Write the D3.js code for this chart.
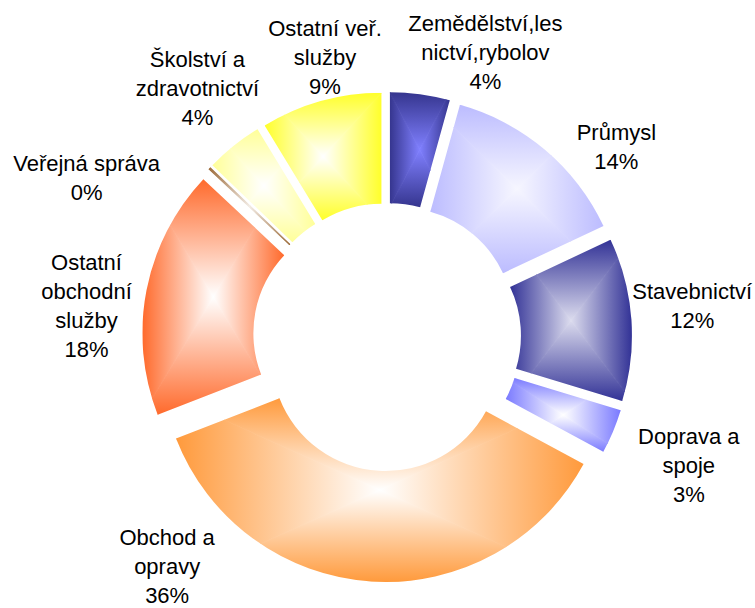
<!DOCTYPE html>
<html>
<head>
<meta charset="utf-8">
<script src="https://cdn.jsdelivr.net/npm/d3@7"></script>
<style>
  body { margin: 0; background: #fff; }
  .label { font-family: "Liberation Sans", Arial, sans-serif; font-size: 22px; fill: #000; }
</style>
</head>
<body>
<div id="chart"></div>
<script>
/***************** Data *********************/
var sectors = ["Zemědělství,lesnictví,rybolov", "Průmysl", "Stavebnictví", "Doprava a spoje",
               "Obchod a opravy", "Ostatní obchodní služby", "Veřejná správa",
               "Školství a zdravotnictví", "Ostatní veř. služby"];
var shares = [4.3, 13.7, 11.7, 3.2, 36.2, 17.9, 0.2, 4.1, 8.7];
var labelLines = [
  ["Zemědělství,les", "nictví,rybolov"],
  ["Průmysl"],
  ["Stavebnictví"],
  ["Doprava a", "spoje"],
  ["Obchod a", "opravy"],
  ["Ostatní", "obchodní", "služby"],
  ["Veřejná správa"],
  ["Školství a", "zdravotnictví"],
  ["Ostatní veř.", "služby"]
];

/***************** Styles / layout *********************/
var edgeColors   = ["#35358e", "#bcbcff", "#323296", "#7a7aff", "#ff9a3c", "#ff6a2c", "#996633", "#ffff99", "#ffff2a"];
var centerColors = ["#8080ff", "#f6f6ff", "#dcdcee", "#ffffff", "#ffffff", "#ffffff", "#f2ebe4", "#ffffff", "#ffffff"];
// label placement tweaks relative to the default outside position
var labelNudge = [[58, 13], [36, 39], [6, -10], [25, 13], [-201, -70], [-6, 26], [-83, 48], [-2, -15], [19, 9]];

var w = 755, h = 608,
    cx = 387, cy = 337,
    outerR = 225, innerR = 114,
    explode = 20,
    labelR = 300,
    lineH = 29;

var svg = d3.select("#chart")
    .append("svg")
    .attr("width", w)
    .attr("height", h);

var defs = svg.append("defs");

var total = d3.sum(shares);
var pie = d3.pie().sort(null).value(function(d) { return d; });
var arc = d3.arc().innerRadius(innerR).outerRadius(outerR);
var arcs = pie(shares);

/***************** Slices with "from centre" rectangle gradient *********************/
arcs.forEach(function(a, i) {
  var mid = (a.startAngle + a.endAngle) / 2;
  var dx = explode * Math.sin(mid), dy = -explode * Math.cos(mid);
  var g = svg.append("g")
      .attr("class", "slice")
      .attr("transform", "translate(" + (cx + dx) + "," + (cy + dy) + ")");

  var d = arc(a);
  defs.append("clipPath").attr("id", "clip" + i).append("path").attr("d", d);

  // measure the slice box
  var probe = g.append("path").attr("d", d).attr("fill", "none");
  var bb = probe.node().getBBox();
  probe.remove();

  var x0 = bb.x, y0 = bb.y, x1 = bb.x + bb.width, y1 = bb.y + bb.height,
      mx = (x0 + x1) / 2, my = (y0 + y1) / 2;

  var parts = [
    { pts: [[x0, y0], [x1, y0], [mx, my]], from: [mx, y0], to: [mx, my] },
    { pts: [[x0, y1], [x1, y1], [mx, my]], from: [mx, y1], to: [mx, my] },
    { pts: [[x0, y0], [x0, y1], [mx, my]], from: [x0, my], to: [mx, my] },
    { pts: [[x1, y0], [x1, y1], [mx, my]], from: [x1, my], to: [mx, my] }
  ];

  var inner = g.append("g").attr("clip-path", "url(#clip" + i + ")");
  parts.forEach(function(p, j) {
    var id = "grad" + i + "_" + j;
    var lg = defs.append("linearGradient")
        .attr("id", id)
        .attr("gradientUnits", "userSpaceOnUse")
        .attr("x1", p.from[0]).attr("y1", p.from[1])
        .attr("x2", p.to[0]).attr("y2", p.to[1]);
    lg.append("stop").attr("offset", "0%").attr("stop-color", edgeColors[i]);
    lg.append("stop").attr("offset", "100%").attr("stop-color", centerColors[i]);
    inner.append("polygon")
        .attr("points", p.pts.map(function(q) { return q.join(","); }).join(" "))
        .attr("fill", "url(#" + id + ")")
        .attr("stroke", "url(#" + id + ")")
        .attr("stroke-width", 0.8);
  });
});

/***************** Labels *********************/
arcs.forEach(function(a, i) {
  var mid = (a.startAngle + a.endAngle) / 2;
  var lx = cx + labelR * Math.sin(mid) + labelNudge[i][0],
      ly = cy - labelR * Math.cos(mid) + labelNudge[i][1];
  var lines = labelLines[i].concat([Math.round(shares[i] / total * 100) + "%"]);
  var top = ly - (lines.length - 1) * lineH / 2;

  var t = svg.append("text")
      .attr("class", "label")
      .attr("text-anchor", "middle")
      .attr("x", lx)
      .attr("y", top)
      .attr("dy", "0.35em");
  lines.forEach(function(s, k) {
    t.append("tspan")
        .attr("x", lx)
        .attr("y", top + k * lineH)
        .attr("dy", "0.35em")
        .text(s);
  });
});
</script>
</body>
</html>
